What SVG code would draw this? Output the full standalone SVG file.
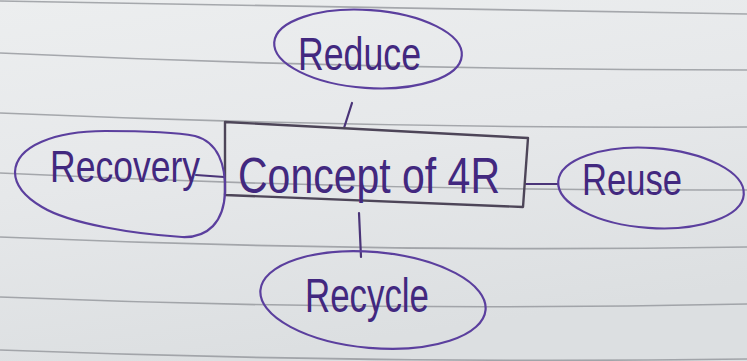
<svg xmlns="http://www.w3.org/2000/svg" width="747" height="361" viewBox="0 0 747 361">
<style>
.rule{fill:none;stroke:#8d9095;stroke-width:1.6;opacity:.75}
.ink{fill:none;stroke:#5b3f9e;stroke-width:2.2;stroke-linecap:round}
.box{fill:none;stroke:#4d4558;stroke-width:2.4;stroke-linejoin:round}
.lbl{font-family:"Liberation Sans","DejaVu Sans",sans-serif;font-weight:300;fill:#42287f}
.conn{stroke:#4a3478;stroke-width:2.2;stroke-linecap:round;fill:none}
</style>
<defs>
<linearGradient id="paper" x1="0" y1="0" x2="0.3" y2="1">
<stop offset="0" stop-color="#eceeef"/>
<stop offset="0.5" stop-color="#e6e8ea"/>
<stop offset="1" stop-color="#dcdfe1"/>
</linearGradient>
</defs>
<rect width="747" height="361" fill="url(#paper)"/>
<g id="rules">
<path class="rule" d="M0,1 Q373,9 747,14"/>
<path class="rule" d="M0,53 Q373,70 747,70"/>
<path class="rule" d="M0,113 Q373,129 747,127"/>
<path class="rule" d="M0,173 Q373,191 747,190"/>
<path class="rule" d="M0,237 Q373,253 747,247"/>
<path class="rule" d="M0,297 Q373,312 747,304"/>
<path class="rule" d="M0,350 Q373,364 747,359"/>
</g>
<g id="connectors">
<line class="conn" x1="352" y1="103" x2="344" y2="128"/>
<line class="conn" x1="359" y1="213" x2="361" y2="257"/>
<line class="conn" x1="526" y1="184" x2="558" y2="184"/>
<line class="conn" x1="196" y1="175" x2="224" y2="177"/>
</g>
<g id="center">
<polygon class="box" points="225,122 528,138 523,207 225,195"/>
<text class="lbl" transform="translate(238 193) scale(1 1.15)" font-size="44" textLength="262" lengthAdjust="spacingAndGlyphs">Concept of 4R</text>
</g>
<g id="reduce">
<ellipse class="ink" cx="368" cy="49" rx="94" ry="39" transform="rotate(4 368 49)"/>
<text class="lbl" transform="translate(298 70) scale(1 1.15)" font-size="40" textLength="123" lengthAdjust="spacingAndGlyphs">Reduce</text>
</g>
<g id="recovery">
<path class="ink" d="M15,172 C16,146 55,131 105,131 C150,131 175,132 195,136 C218,142 226,165 225,192 C224,222 208,238 182,237 C135,234 70,224 42,207 C25,197 15,186 15,172 Z"/>
<text class="lbl" transform="translate(50 182) scale(1 1.15)" font-size="38" textLength="150" lengthAdjust="spacingAndGlyphs">Recovery</text>
</g>
<g id="reuse">
<ellipse class="ink" cx="651" cy="188" rx="93" ry="40" transform="rotate(4 651 188)"/>
<text class="lbl" transform="translate(582 195) scale(1 1.15)" font-size="38" textLength="100" lengthAdjust="spacingAndGlyphs">Reuse</text>
</g>
<g id="recycle">
<ellipse class="ink" cx="373" cy="300" rx="113" ry="48" transform="rotate(5 373 300)"/>
<text class="lbl" transform="translate(305 312) scale(1 1.15)" font-size="42" textLength="124" lengthAdjust="spacingAndGlyphs">Recycle</text>
</g>
</svg>
